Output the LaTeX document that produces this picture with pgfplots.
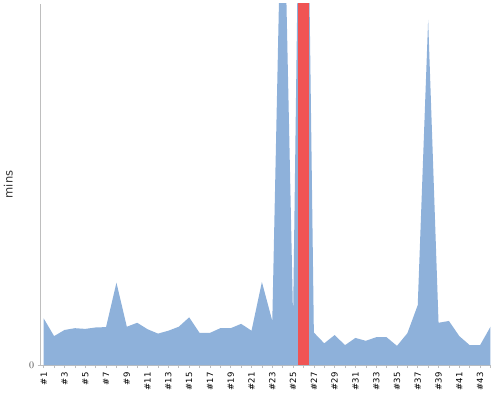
\documentclass[border=0pt]{standalone}
\usepackage{pgfplots}
\pgfplotsset{compat=1.18}
\usepackage{pgfplotstable}
\usepackage{fontspec}
\setmainfont{DejaVu Sans}
\definecolor{areablue}{RGB}{142,177,218}
\definecolor{barred}{RGB}{240,84,84}
\definecolor{axgray}{RGB}{190,190,190}
\pgfplotstableread{
x y
1 12.9
2 8.0
3 9.7
4 10.2
5 10.0
6 10.4
7 10.5
8 22.8
9 10.6
10 11.7
11 9.9
12 8.7
13 9.5
14 10.6
15 13.2
16 8.9
17 8.9
18 10.2
19 10.2
20 11.4
21 9.5
22 23.0
23 12.2
24 150
25 12.9
26 230
27 9.0
28 6.0
29 8.3
30 5.5
31 7.5
32 6.7
33 7.7
34 7.7
35 5.3
36 8.8
37 16.6
38 95.6
39 11.7
40 12.2
41 8.0
42 5.5
43 5.5
44 10.6
}\datatable
\begin{document}
\begin{tikzpicture}
\begin{axis}[
  scale only axis, width=450.3pt, height=361pt,
  xmin=0.71, xmax=44.05, ymin=0, ymax=100,
  axis x line*=bottom, axis y line*=left,
  axis line style={axgray, line width=0.8pt},
  x axis line style={-}, y axis line style={-},
  xtick={1,3,...,43},
  xticklabels={\#1,\#3,\#5,\#7,\#9,\#11,\#13,\#15,\#17,\#19,\#21,\#23,\#25,\#27,\#29,\#31,\#33,\#35,\#37,\#39,\#41,\#43},
  minor xtick={2,4,...,44},
  ytick={0},
  tick style={axgray, line width=0.6pt},
  major tick length=3pt, minor tick length=3pt,
  tick align=outside,
  xticklabel style={rotate=90, anchor=east, font=\fontsize{8.5}{9}\selectfont, black, xshift=-1pt},
  yticklabel style={font=\fontsize{10}{11}\selectfont, text=black!70},
  ylabel={mins},
  ylabel style={at={(axis description cs:-0.072,0.5)}, anchor=center, font=\fontsize{11.5}{12}\selectfont, text=black!80},
  clip=true,
]
\coordinate (O) at (rel axis cs:0,0);
\addplot[fill=areablue, draw=none] table[x=x,y=y] {\datatable} \closedcycle;
\addplot[ybar, bar width=1, fill=barred, draw=none] coordinates {(26,300)};
\end{axis}
\pgfresetboundingbox
\path[use as bounding box] (O) ++(-40.7pt,-35pt) rectangle ++(500pt,400pt);
\end{tikzpicture}
\end{document}
